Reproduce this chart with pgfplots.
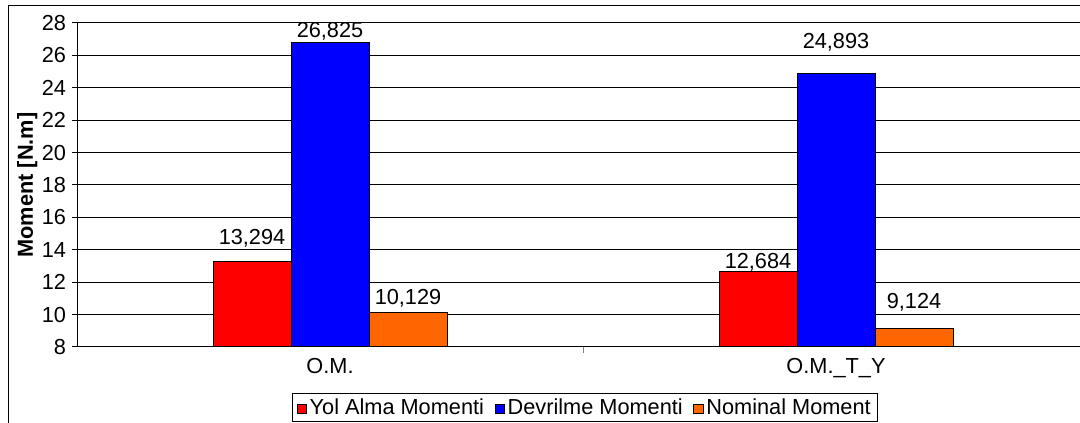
\documentclass[border=0pt]{standalone}
\usepackage{fontspec}
\setmainfont{Liberation Sans}
\usepackage{pgfplots}
\pgfplotsset{compat=1.18}
\definecolor{cRed}{HTML}{FF0000}
\definecolor{cBlue}{HTML}{0000FF}
\definecolor{cOrange}{HTML}{FF6600}
\newcommand{\f}{\fontsize{16.3}{18}\selectfont}
\begin{document}
\begin{tikzpicture}
\useasboundingbox (0,0) rectangle (810pt,317.25pt);
\clip (0,0) rectangle (810pt,317.25pt);
\draw[line width=0.75pt] (6pt,-20pt) rectangle (900pt,312.75pt);
\begin{axis}[
  at={(57.75pt,57pt)}, anchor=south west,
  width=759pt, height=243pt, scale only axis,
  xmin=-0.5, xmax=1.5, ymin=8, ymax=28,
  ytick={8,10,...,28},
  xtick={0,1}, xticklabels={O.M., O.M.\_T\_Y},
  extra x ticks={0.5}, extra x tick labels={},
  xtick pos=bottom, ytick pos=left,
  extra x tick style={major tick length=4.5pt, xmajorgrids=false},
  tick align=outside,
  major tick length=3.75pt,
  x tick style={draw=none},
  extra x tick style={x tick style={draw=gray, line width=0.75pt}},
  y tick style={draw=black, line width=0.75pt},
  ymajorgrids, grid style={black, line width=0.75pt},
  axis line style={black, line width=0.75pt},
  /pgf/number format/assume math mode=true,
  ticklabel style={font=\f},
  xticklabel style={yshift=-1pt},
  yticklabel style={xshift=-1pt},
  ylabel={\bfseries Moment [N.m]},
  ylabel style={font=\f, yshift=-3.5pt},
  legend columns=3,
  legend style={at={(0.502,-0.142)}, anchor=north, draw=black, line width=0.75pt,
    font=\f, inner xsep=3pt, inner ysep=2pt,
    /tikz/every even column/.append style={column sep=6pt}},
  legend image code/.code={\draw[#1, draw=black, line width=0.75pt] (0pt,-4.5pt) rectangle (7pt,2.5pt);},
]
\addplot[ybar, bar width=58.5pt, bar shift=-58.5pt, fill=cRed, draw=black, line width=0.75pt]
  coordinates {(0,13.294) (1,12.684)};
\addlegendentry{Yol Alma Momenti}
\addplot[ybar, bar width=58.5pt, bar shift=0pt, fill=cBlue, draw=black, line width=0.75pt]
  coordinates {(0,26.825) (1,24.893)};
\addlegendentry{Devrilme Momenti}
\addplot[ybar, bar width=58.5pt, bar shift=58.5pt, fill=cOrange, draw=black, line width=0.75pt]
  coordinates {(0,10.129) (1,9.124)};
\addlegendentry{Nominal Moment}
\node[font=\f] at ([xshift=-58.5pt]axis cs:0,14.73) {13,294};
\node[font=\f] at (axis cs:0,27.5) {26,825};
\node[font=\f] at ([xshift=58.5pt]axis cs:0,11.02) {10,129};
\node[font=\f] at ([xshift=-58.5pt]axis cs:1,13.25) {12,684};
\node[font=\f] at (axis cs:1,26.83) {24,893};
\node[font=\f] at ([xshift=58.5pt]axis cs:1,10.78) {9,124};
\end{axis}
\end{tikzpicture}
\end{document}
